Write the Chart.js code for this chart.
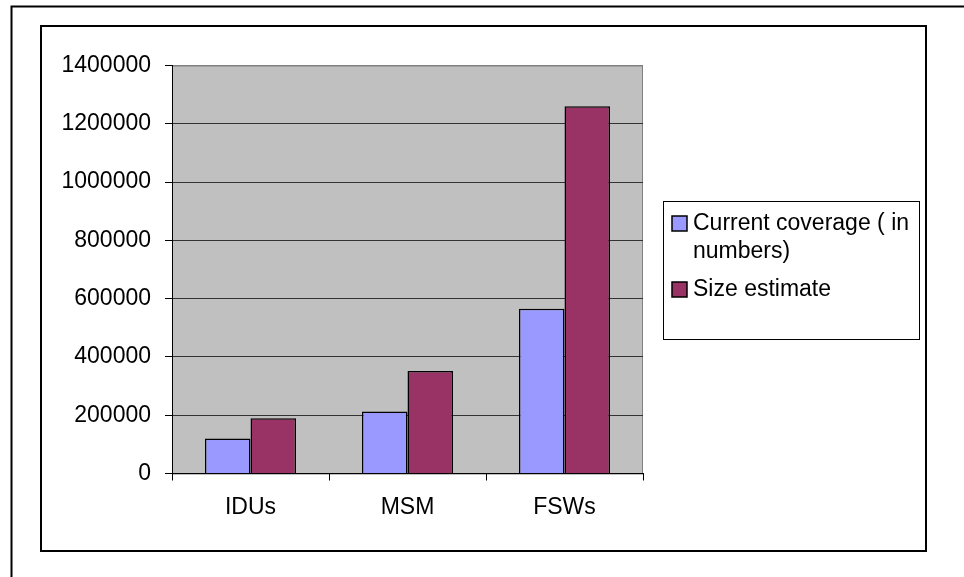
<!DOCTYPE html>
<html>
<head>
<meta charset="utf-8">
<script src="https://cdn.jsdelivr.net/npm/chart.js@4.4.0/dist/chart.umd.min.js"></script>
<style>
  body { margin: 0; background: #fff; }
  canvas { display: block; }
</style>
</head>
<body>
<canvas id="coverageChart" width="964" height="577"></canvas>
<script>
const categories = ['IDUs', 'MSM', 'FSWs'];
const seriesNames = ['Current coverage ( in numbers)', 'Size estimate'];
const currentCoverage = [120000, 213000, 565000];
const sizeEstimate = [190000, 352000, 1260000];
const yMax = 1400000;
const yStep = 200000;

const FONT = "'Liberation Sans', Arial, sans-serif";

// split a legend label into lines that fit maxWidth
function wrapText(ctx, text, maxWidth) {
    const words = text.split(' ');
    const lines = [];
    let line = '';
    words.forEach(w => {
        const test = line ? line + ' ' + w : w;
        if (line && ctx.measureText(test).width > maxWidth) {
            lines.push(line);
            line = w;
        } else {
            line = test;
        }
    });
    if (line) lines.push(line);
    return lines;
}

const framePlugin = {
    id: 'frame',
    beforeDraw(chart) {
        const { ctx, chartArea: a } = chart;
        ctx.save();
        ctx.fillStyle = '#ffffff';
        ctx.fillRect(0, 0, chart.width, chart.height);
        ctx.fillStyle = '#c0c0c0';
        ctx.fillRect(a.left, a.top, a.right - a.left, a.bottom - a.top);
        ctx.strokeStyle = '#808080';
        ctx.lineWidth = 1;
        ctx.strokeRect(a.left + 0.5, a.top + 0.5, a.right - a.left - 1, a.bottom - a.top);
        ctx.restore();
    },
    afterDraw(chart) {
        const ctx = chart.ctx;
        ctx.save();
        ctx.strokeStyle = '#000';
        ctx.lineWidth = 2;
        ctx.beginPath();
        ctx.moveTo(11.5, chart.height);
        ctx.lineTo(11.5, 6.5);
        ctx.lineTo(chart.width, 6.5);
        ctx.stroke();
        ctx.strokeRect(41, 26, 885, 525);

        // legend
        ctx.lineWidth = 1;
        ctx.strokeRect(663.5, 201.5, 256, 138);
        ctx.font = '23px ' + FONT;
        ctx.textBaseline = 'alphabetic';
        let baseline = 230;
        chart.data.datasets.forEach(ds => {
            const lines = wrapText(ctx, ds.label, 224);
            ctx.fillStyle = ds.backgroundColor;
            ctx.fillRect(672, baseline - 14, 15, 15);
            ctx.strokeStyle = '#000';
            ctx.lineWidth = 1.5;
            ctx.strokeRect(672, baseline - 14, 15, 15);
            ctx.fillStyle = '#000';
            lines.forEach((ln, i) => ctx.fillText(ln, 693, baseline + i * 28));
            baseline += (lines.length - 1) * 28 + 38;
        });
        ctx.restore();
    }
};

const ctx = document.getElementById('coverageChart').getContext('2d');
const coverageChart = new Chart(ctx, {
    type: 'bar',
    data: {
        labels: categories,
        datasets: [{
            label: seriesNames[0],
            data: currentCoverage,
            backgroundColor: '#9999ff',
            borderColor: '#000',
            borderWidth: 1.5
        }, {
            label: seriesNames[1],
            data: sizeEstimate,
            backgroundColor: '#993366',
            borderColor: '#000',
            borderWidth: 1.5
        }]
    },
    options: {
        responsive: false,
        animation: false,
        categoryPercentage: 0.58,
        barPercentage: 1,
        layout: {
            padding: { left: 42, right: 321, top: 65.5, bottom: 43.5 }
        },
        plugins: {
            legend: { display: false },
            tooltip: { enabled: false }
        },
        scales: {
            x: {
                grid: { offset: true, drawOnChartArea: false, color: '#000', tickLength: 7 },
                border: { color: '#000', width: 1 },
                ticks: { color: '#000', font: { family: FONT, size: 23 }, padding: 13 },
                afterFit(scale) { scale.height = 60; }
            },
            y: {
                min: 0,
                max: yMax,
                ticks: {
                    stepSize: yStep,
                    color: '#000',
                    font: { family: FONT, size: 23 },
                    padding: 14,
                    callback: v => String(v)
                },
                grid: {
                    color: c => (c.tick && c.tick.value === yMax) ? '#808080' : '#333',
                    tickColor: '#000',
                    tickLength: 7
                },
                border: { color: '#000' },
                afterFit(scale) { scale.width = 130; }
            }
        }
    },
    plugins: [framePlugin]
});
</script>
</body>
</html>
